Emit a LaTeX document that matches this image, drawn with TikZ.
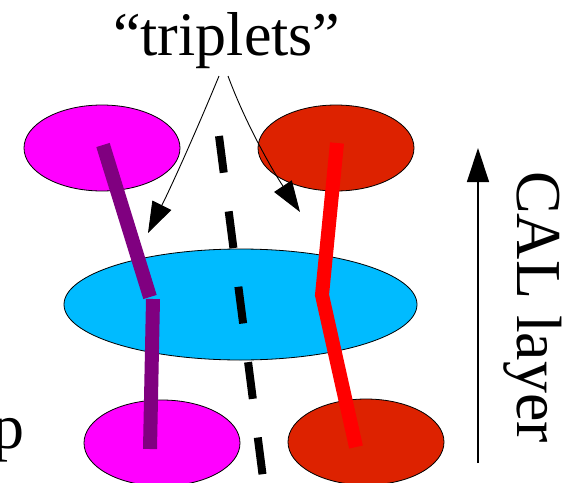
\documentclass[tikz,border=0pt]{standalone}
\usepackage{fontspec}
\setmainfont{Liberation Serif}
\usetikzlibrary{shapes.geometric,arrows.meta}

\definecolor{hitmag}{HTML}{FF00FF}
\definecolor{hitred}{HTML}{DD2200}
\definecolor{calblue}{HTML}{00BBFF}
\definecolor{trkpurple}{HTML}{800080}
\definecolor{trkred}{HTML}{FF0000}

\begin{document}
\begin{tikzpicture}[x=1pt,y=1pt,
  pad/.style={ellipse, draw=black, line width=0.8pt, inner sep=0pt,
              minimum width=156pt, minimum height=86pt},
  layerpad/.style={pad, minimum width=353pt, minimum height=111pt},
  track/.style={line width=14pt, line cap=butt, line join=miter},
  axisline/.style={line width=8pt, dash pattern=on 37pt off 39pt},
  pointer/.style={line width=0.9pt, -{Triangle[length=31pt,width=21pt]}},
  bigtext/.style={inner sep=0pt, font=\fontsize{62}{70}\selectfont},
  sidetext/.style={inner sep=0pt, font=\fontsize{64}{72}\selectfont}]

\useasboundingbox (0,0) rectangle (573,-482);

% hit clusters in the three layers
\node[pad, fill=hitmag] (tl) at (102,-148) {};
\node[pad, fill=hitred] (tr) at (336,-148) {};
\node[layerpad, fill=calblue] (mid) at (240.5,-304.5) {};
\node[pad, fill=hitmag] (bl) at (162,-443) {};
\node[pad, fill=hitred] (br) at (366,-442) {};

% track segments
\coordinate (pA) at (103,-145);
\coordinate (pB) at (150,-297);
\coordinate (pC) at (153,-299);
\coordinate (pD) at (150,-449);
\draw[track, trkpurple] (pA) -- (pB);
\draw[track, trkpurple] (pC) -- (pD);

\coordinate (rA) at (337,-143);
\coordinate (rB) at (322,-295);
\coordinate (rC) at (356,-447);
\draw[track, trkred] (rA) -- (rB) -- (rC);

% dashed axis
\coordinate (dA) at (219,-136);
\coordinate (dB) at (263.5,-482);
\draw[axisline] (dA) -- (dB);

% label and its pointers
\node[bigtext, anchor=base west] (lbl) at (113,-55) {“triplets”};
\coordinate (sL) at (219,-76);
\coordinate (sR) at (228,-76);
\coordinate (tL) at (148,-233);
\coordinate (tR) at (300,-212);
\draw[pointer] (sL) .. controls (198,-127) and (173,-183) .. (tL);
\draw[pointer] (sR) .. controls (245,-122) and (271,-168) .. (tR);

% layer direction
\coordinate (aB) at (478,-463);
\coordinate (aT) at (478,-148);
\draw[line width=1.3pt, -{Triangle[length=34pt,width=22pt]}] (aB) -- (aT);
\node[sidetext, rotate=-90, anchor=base west] (cal) at (517,-171) {CAL layer};

% clipped word at the left edge
\node[sidetext, anchor=base east] (pl) at (25,-448) {p};

\end{tikzpicture}
\end{document}
